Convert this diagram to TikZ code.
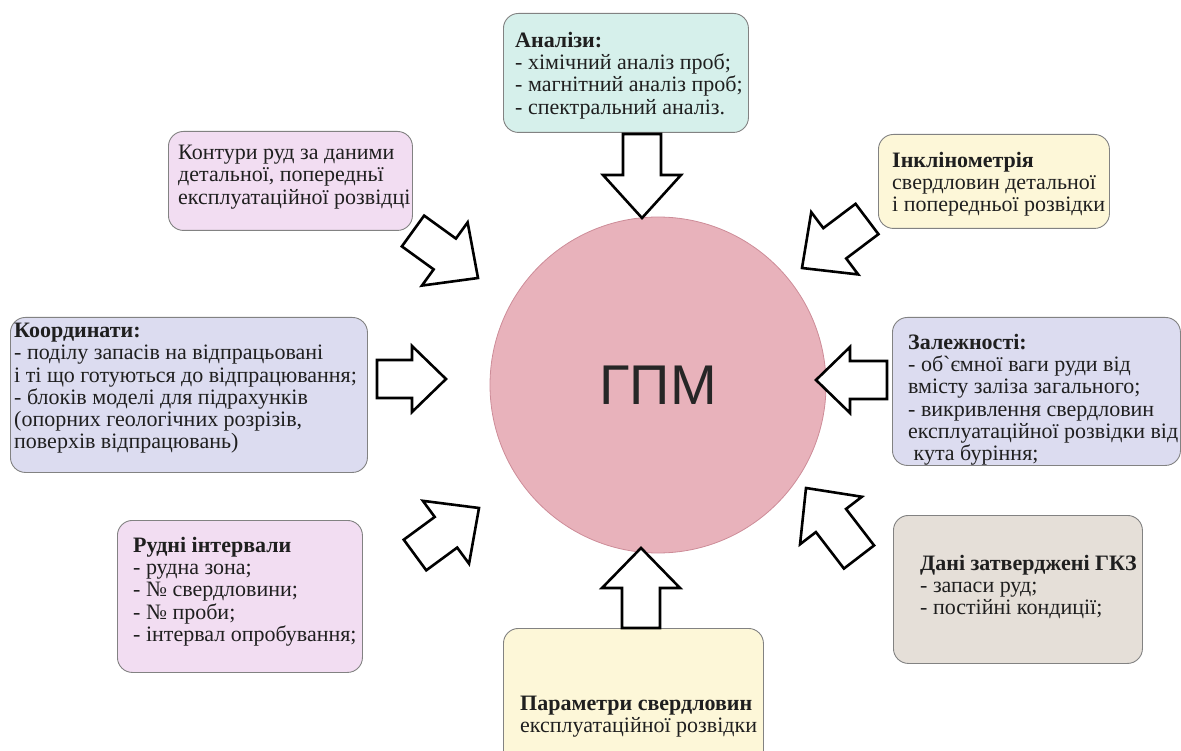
\documentclass[tikz,border=0pt]{standalone}
\usepackage{fontspec}
\usetikzlibrary{calc}
\newfontfamily\ukserif{Liberation Serif}
\newfontfamily\uksans{Liberation Sans}
\definecolor{cteal}{RGB}{214,240,235}
\definecolor{cpink}{RGB}{242,221,242}
\definecolor{cyell}{RGB}{253,247,216}
\definecolor{clav}{RGB}{220,220,240}
\definecolor{cbeige}{RGB}{229,223,216}
\definecolor{ccirc}{RGB}{232,178,187}
\definecolor{ccircb}{RGB}{205,140,152}
\definecolor{cbord}{RGB}{130,130,130}
\tikzset{
  box/.style={draw=cbord, line width=0.9pt, rounded corners=15pt, rectangle, anchor=north west, inner sep=0pt},
  txt/.style={anchor=north west, inner sep=0pt, align=left, font=\ukserif\fontsize{22}{22.2}\selectfont, text=black!88},
  arr/.style={draw=black, fill=white, line width=2.6pt, line join=miter},
}
\newcommand\barrow[4]{%
  \coordinate (#1h) at ($(#1p)!#4!(#1t)$);
  \draw[arr] ($(#1t)!#2!90:(#1p)$) -- ($(#1h)!#2!90:(#1p)$) -- ($(#1h)!#3!90:(#1p)$) -- (#1p)
    -- ($(#1h)!#3!-90:(#1p)$) -- ($(#1h)!#2!-90:(#1p)$) -- ($(#1t)!#2!-90:(#1p)$) -- cycle;
}
\begin{document}
\begin{tikzpicture}[x=1pt,y=-1pt]
\useasboundingbox (0,0) rectangle (1181,751);
\begin{scope}
\clip (0,0) rectangle (1181,751);
% central circle
\node[circle, draw=ccircb, line width=0.8pt, fill=ccirc, minimum size=336pt, inner sep=0pt] (gpm) at (658,385) {};
\node[font=\uksans\fontsize{56}{60}\selectfont, text=black!85] (gpmt) at (gpm.center) {ГПМ};

% boxes
\node[box, fill=cteal, minimum width=245pt, minimum height=119pt] (b1) at (503,13) {};
\node[txt] (t1) at (515,32) {\textbf{Аналізи:}\\- хімічний аналіз проб;\\- магнітний аналіз проб;\\- спектральний аналіз.};

\node[box, fill=cpink, minimum width=244pt, minimum height=99pt] (b2) at (168,131) {};
\node[txt] (t2) at (178,145) {Контури руд за даними\\детальної, попередньї\\експлуатаційної розвідці};

\node[box, fill=cyell, minimum width=231pt, minimum height=94pt] (b3) at (878,134) {};
\node[txt] (t3) at (892,152) {\textbf{Інклінометрія}\\свердловин детальної\\і попередньої розвідки};

\node[box, fill=clav, minimum width=357pt, minimum height=155pt] (b4) at (10,317) {};
\node[txt] (t4) at (14,323) {\textbf{Координати:}\\- поділу запасів на відпрацьовані\\і ті що готуються до відпрацювання;\\- блоків моделі для підрахунків\\(опорних геологічних розрізів,\\поверхів відпрацювань)};

\node[box, fill=clav, minimum width=288pt, minimum height=148pt] (b5) at (892,317) {};
\node[txt] (t5) at (908,334) {\textbf{Залежності:}\\- об`ємної ваги руди від\\вмісту заліза загального;\\- викривлення свердловин\\експлуатаційної розвідки від\\\ кута буріння;};

\node[box, fill=cpink, minimum width=245pt, minimum height=152pt] (b6) at (117,520) {};
\node[txt] (t6) at (133,537) {\textbf{Рудні інтервали}\\- рудна зона;\\- № свердловини;\\- № проби;\\- інтервал опробування;};

\node[box, fill=cbeige, minimum width=249pt, minimum height=148pt] (b7) at (893,515) {};
\node[txt] (t7) at (920,555) {\textbf{Дані затверджені ГКЗ}\\- запаси руд;\\- постійні кондиції;};

\node[box, fill=cyell, minimum width=260pt, minimum height=150pt] (b8) at (503,628) {};
\node[txt] (t8) at (520,696) {\textbf{Параметри свердловин}\\експлуатаційної розвідки};

% block arrows
\coordinate (aTt) at (642,134); \coordinate (aTp) at (642,218);
\barrow{aT}{19pt}{39pt}{43pt}
\coordinate (aBt) at (641,628); \coordinate (aBp) at (641,548);
\barrow{aB}{19pt}{39pt}{40pt}
\coordinate (aLt) at (377,379); \coordinate (aLp) at (446,379);
\barrow{aL}{19pt}{33pt}{34pt}
\coordinate (aRt) at (887,380); \coordinate (aRp) at (816,380);
\barrow{aR}{19pt}{33pt}{34pt}
\coordinate (aTLt) at (413,231); \coordinate (aTLp) at (478,278);
\barrow{aTL}{19pt}{39pt}{41pt}
\coordinate (aBLt) at (415,555); \coordinate (aBLp) at (479,508);
\barrow{aBL}{19pt}{39pt}{41pt}
\coordinate (aTRt) at (867,219); \coordinate (aTRp) at (802,268);
\barrow{aTR}{19pt}{39pt}{41pt}
\coordinate (aBRt) at (859,557); \coordinate (aBRp) at (806,488);
\barrow{aBR}{19pt}{39pt}{41pt}
\end{scope}
\end{tikzpicture}
\end{document}
